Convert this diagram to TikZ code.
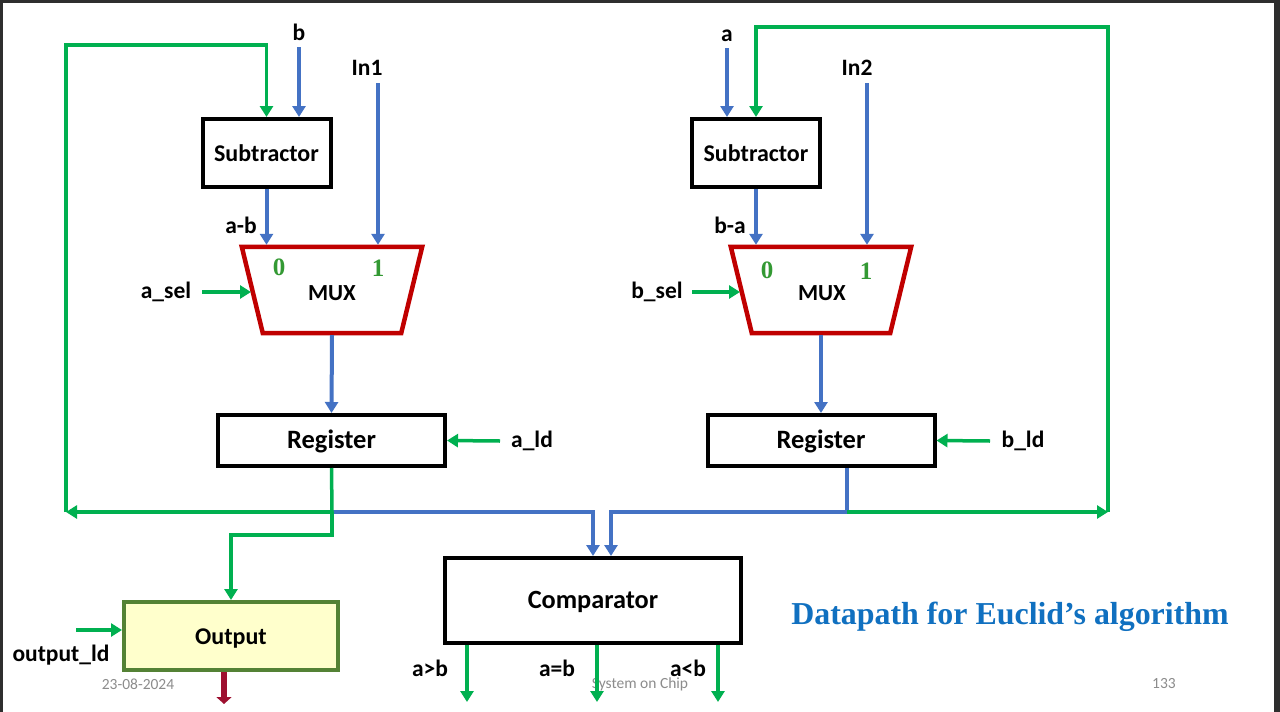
\documentclass[tikz,border=0pt]{standalone}
\usepackage{fontspec}
\setmainfont{Carlito}
\newfontfamily\tnr{Liberation Serif}
\usetikzlibrary{arrows.meta,calc}
\definecolor{wblue}{HTML}{4472C4}
\definecolor{wgreen}{HTML}{00B050}
\definecolor{wred}{HTML}{C00000}
\definecolor{oliveb}{HTML}{548235}
\definecolor{ylw}{HTML}{FFFFCC}
\definecolor{ttl}{HTML}{1070C0}
\definecolor{digitg}{HTML}{339933}
\definecolor{frm}{HTML}{2E2E2E}
\definecolor{foot}{HTML}{8C8C8C}
\definecolor{outarr}{HTML}{9E1030}
\tikzset{
  blk/.style={draw=black, line width=4pt, fill=white, inner sep=0pt,
    text height=16pt, text depth=0pt,
    font=\fontsize{24}{28}\selectfont\bfseries},
  bw/.style={wblue, line width=4pt, -{Triangle[length=11pt,width=13pt]}},
  gw/.style={wgreen, line width=3.5pt, -{Triangle[length=11pt,width=13pt]}},
  gl/.style={wgreen, line width=3.5pt},
  bl/.style={wblue, line width=4pt},
  lbl/.style={inner sep=0pt, font=\fontsize{23.5}{26}\selectfont\bfseries},
  muxbox/.style={wred, line width=4.5pt, line join=miter},
  digit/.style={inner sep=0pt, text=digitg, font=\fontsize{25}{28}\tnr\bfseries},
  foottxt/.style={inner sep=0pt, text=foot, font=\fontsize{15.5}{18}\selectfont},
}
\begin{document}
\begin{tikzpicture}[x=1pt,y=-1pt]
\useasboundingbox (0,0) rectangle (1280,712);
\fill[white] (0,0) rectangle (1280,712);
\fill[frm] (0,0) rectangle (1280,3);
\fill[frm] (0,0) rectangle (3,712);
\fill[frm] (1274,0) rectangle (1280,712);

% ---------- blocks ----------
\node[blk, minimum width=128pt, minimum height=68pt, font=\fontsize{24}{28}\selectfont\bfseries] (subA) at (266.5,153) {Subtractor};
\node[blk, minimum width=128pt, minimum height=68pt, font=\fontsize{24}{28}\selectfont\bfseries] (subB) at (756,153) {Subtractor};
\node[minimum width=180pt, minimum height=86pt, inner sep=0pt] (muxA) at (332,290) {};
\node[minimum width=180pt, minimum height=86pt, inner sep=0pt] (muxB) at (821,290) {};
\draw[muxbox] (muxA.north west) -- (muxA.north east) -- ([xshift=-21pt]muxA.south east) -- ([xshift=21pt]muxA.south west) -- cycle;
\draw[muxbox] (muxB.north west) -- (muxB.north east) -- ([xshift=-21pt]muxB.south east) -- ([xshift=21pt]muxB.south west) -- cycle;
\node[lbl, font=\fontsize{23}{26}\selectfont\bfseries] (muxAt) at (332,293) {MUX};
\node[lbl, font=\fontsize{23}{26}\selectfont\bfseries] (muxBt) at (822,293) {MUX};
\node[digit] (a0) at (279,267) {0};
\node[digit] (a1) at (378,268) {1};
\node[digit] (b0) at (767,270) {0};
\node[digit] (b1) at (866,271) {1};
\node[blk, minimum width=227pt, minimum height=51pt, font=\fontsize{26.5}{28}\selectfont\bfseries] (regA) at (331.5,440.5) {Register};
\node[blk, minimum width=227pt, minimum height=51pt, font=\fontsize{26.5}{28}\selectfont\bfseries] (regB) at (821,440.5) {Register};
\node[blk, minimum width=296pt, minimum height=85pt, font=\fontsize{26.3}{28}\selectfont\bfseries] (comp) at (593,600.5) {Comparator};
\node[blk, draw=oliveb, fill=ylw, minimum width=214pt, minimum height=68pt] (outp) at (231,636) {Output};

% ---------- labels ----------
\node[lbl] (lb) at (299,32) {b};
\node[lbl] (lin1) at (367,68) {In1};
\node[lbl] (la) at (727,36) {a};
\node[lbl] (lin2) at (857,68) {In2};
\node[lbl] (lamb) at (241,225) {a-b};
\node[lbl] (lbma) at (730,225) {b-a};
\node[lbl] (lasel) at (166,292) {a\_sel};
\node[lbl] (lbsel) at (657,292) {b\_sel};
\node[lbl] (lald) at (532,441) {a\_ld};
\node[lbl] (lbld) at (1023,441) {b\_ld};
\node[lbl] (lold) at (61,655) {output\_ld};
\node[lbl] (lgt) at (430,668) {a>b};
\node[lbl] (leq) at (557,668) {a=b};
\node[lbl] (llt) at (688,668) {a<b};

\node[inner sep=0pt, text=ttl, font=\fontsize{31.9}{36}\tnr\bfseries] (title) at (1010,617) {Datapath for Euclid’s algorithm};
\node[foottxt] (fdate) at (138,684) {23-08-2024};
\node[foottxt] (fsoc) at (640,684) {System on Chip};
\node[foottxt] (fpage) at (1164,684) {133};

% ---------- coordinates ----------
\coordinate (bIn) at (299,47);
\coordinate (aIn) at (727,48);
\coordinate (in1) at (378,83);
\coordinate (in2) at (867,83);
\coordinate (aselIn) at (202,292);
\coordinate (bselIn) at (692,292);
\coordinate (muxAsel) at ([xshift=-81pt,yshift=-2pt]muxA.center);
\coordinate (muxBsel) at ([xshift=-81pt,yshift=-2pt]muxB.center);
\coordinate (aldIn) at (500,441);
\coordinate (bldIn) at (990,441);
\coordinate (oldIn) at (76,630);
\coordinate (J1) at (332,512);
\coordinate (J2) at (847,512);
\coordinate (fbA) at (66,512);
\coordinate (fbAtop) at (66,45);
\coordinate (fbB) at (1108,512);
\coordinate (fbBtop) at (1108,27);
\coordinate (toOut) at (332,535);
\coordinate (gtOut) at (467,702);
\coordinate (eqOut) at (597,702);
\coordinate (ltOut) at (718,702);
\coordinate (resOut) at (224,704);

% ---------- blue data paths ----------
\draw[bw] (bIn) -- (bIn |- subA.north);
\draw[bw] (aIn) -- (aIn |- subB.north);
\draw[bw] (in1) -- ([yshift=2pt]in1 |- muxA.north);
\draw[bw] (in2) -- ([yshift=2pt]in2 |- muxB.north);
\draw[bw] (subA.south) -- ([yshift=2pt]subA.south |- muxA.north);
\draw[bw] (subB.south) -- ([yshift=2pt]subB.south |- muxB.north);
\draw[bw] ([yshift=-2pt]muxA.south) -- (regA.north);
\draw[bw] ([yshift=-2pt]muxB.south) -- (muxB.south |- regB.north);
\draw[bw] (J1) -| (comp.north);
\draw[bl] ([xshift=26pt]regB.south) -- (J2);
\draw[bw] (J2) -| ([xshift=18pt]comp.north);

% ---------- green control / feedback ----------
\draw[gw] (aselIn) -- (muxAsel);
\draw[gw] (bselIn) -- (muxBsel);
\draw[gw] (aldIn) -- (regA.east);
\draw[gw] (bldIn) -- (regB.east);
\draw[gw] (oldIn) -- (oldIn -| outp.west);
\draw[gl] (regA.south) -- (J1);
\draw[gw] (J1) -- (fbA);
\draw[gw] (fbA) -- (fbAtop) -| (subA.north);
\draw[gw] (J1) -- (toOut) -| (outp.north);
\draw[gw] (J2) -- (fbB);
\draw[gw] (fbB) -- (fbBtop) -| (subB.north);
\draw[gw] (gtOut |- comp.south) -- (gtOut);
\draw[gw] (eqOut |- comp.south) -- (eqOut);
\draw[gw] (ltOut |- comp.south) -- (ltOut);

% ---------- result arrow ----------
\draw[outarr, line width=6pt, -{Triangle[length=7pt,width=15pt]}] (resOut |- outp.south) -- (resOut);
\end{tikzpicture}
\end{document}
